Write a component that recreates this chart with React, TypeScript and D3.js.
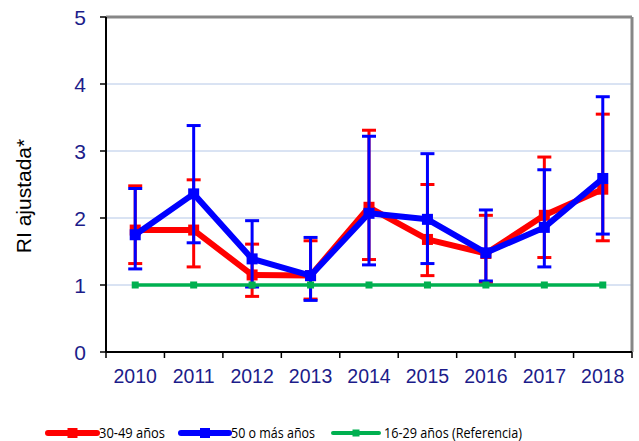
import React from "react";
import * as d3 from "d3";

const years = ["2010", "2011", "2012", "2013", "2014", "2015", "2016", "2017", "2018"];
const yTicks = [0, 1, 2, 3, 4, 5];

const red = [1.82, 1.82, 1.15, 1.14, 2.16, 1.68, 1.47, 2.04, 2.43];
const redLow = [1.32, 1.27, 0.83, 0.79, 1.38, 1.14, 1.04, 1.41, 1.66];
const redHigh = [2.48, 2.57, 1.61, 1.66, 3.31, 2.5, 2.04, 2.91, 3.55];

const blue = [1.75, 2.36, 1.39, 1.14, 2.07, 1.98, 1.48, 1.86, 2.59];
const blueLow = [1.24, 1.63, 0.97, 0.77, 1.3, 1.32, 1.06, 1.27, 1.76];
const blueHigh = [2.44, 3.38, 1.96, 1.71, 3.22, 2.96, 2.12, 2.72, 3.81];

const green = [1, 1, 1, 1, 1, 1, 1, 1, 1];

const seriesNames = ["30-49 años", "50 o más años", "16-29 años (Referencia)"];

const W = 639;
const H = 441;
const left = 106;
const right = 632;
const top = 17;
const bottom = 352;
const navy = "#1c1c8a";

export default function App() {
  const x = d3.scaleBand<string>().domain(years).range([left, right]).padding(0);
  const y = d3.scaleLinear().domain([0, 5]).range([bottom, top]);
  const cx = (i: number) => (x(years[i]) as number) + x.bandwidth() / 2;
  const line = d3
    .line<number>()
    .x((_, i) => cx(i))
    .y((d) => y(d));

  const errorBars = (lo: number[], hi: number[], color: string) =>
    lo.map((l, i) => (
      <g key={i} stroke={color} strokeWidth={3}>
        <line x1={cx(i)} x2={cx(i)} y1={y(l)} y2={y(hi[i])} />
        <line x1={cx(i) - 7} x2={cx(i) + 7} y1={y(l)} y2={y(l)} />
        <line x1={cx(i) - 7} x2={cx(i) + 7} y1={y(hi[i])} y2={y(hi[i])} />
      </g>
    ));

  const markers = (vals: number[], color: string, size: number) =>
    vals.map((v, i) => (
      <rect key={i} x={cx(i) - size / 2} y={y(v) - size / 2} width={size} height={size} fill={color} />
    ));

  const boundaries = years.map((yr) => x(yr) as number).concat([right]);

  const legendItems = [
    { name: seriesNames[0], color: "#ff0000", x1: 48, x2: 97, w: 6, m: 10, tx: 99, len: 66 },
    { name: seriesNames[1], color: "#0000ff", x1: 181, x2: 229, w: 6, m: 10, tx: 231, len: 84 },
    { name: seriesNames[2], color: "#00b050", x1: 333, x2: 379, w: 4, m: 7, tx: 384, len: 138 },
  ];

  return (
    <svg width={W} height={H} style={{ position: "absolute", left: 0, top: 0 }} fontFamily="Liberation Sans, Arial, sans-serif">
      <rect x={0} y={0} width={W} height={H} fill="#ffffff" />
      {/* gridlines */}
      {yTicks
        .filter((t) => t > 0 && t < 5)
        .map((t) => (
          <line key={t} x1={left} x2={right} y1={y(t)} y2={y(t)} stroke="#b4c7e7" strokeWidth={1} />
        ))}
      {/* frame */}
      <line x1={left} x2={right} y1={top} y2={top} stroke="#878787" strokeWidth={3} />
      <line x1={right} x2={right} y1={top} y2={bottom} stroke="#878787" strokeWidth={3} />
      {/* y axis */}
      <line x1={left} x2={left} y1={top} y2={bottom} stroke="#000" strokeWidth={2} />
      {yTicks.map((t) => (
        <g key={t}>
          <line x1={left - 6} x2={left} y1={y(t)} y2={y(t)} stroke="#000" strokeWidth={1.5} />
          <text x={86} y={y(t)} dy="0.36em" textAnchor="end" fontSize={21} fill={navy}>
            {t}
          </text>
        </g>
      ))}
      {/* x axis */}
      <line x1={left} x2={right} y1={bottom} y2={bottom} stroke="#000" strokeWidth={2} />
      {boundaries.map((b, i) => (
        <line key={i} x1={b} x2={b} y1={bottom} y2={bottom + 6} stroke="#000" strokeWidth={1.5} />
      ))}
      {years.map((yr, i) => (
        <text key={yr} x={cx(i)} y={383} textAnchor="middle" fontSize={19.5} fill={navy}>
          {yr}
        </text>
      ))}
      {/* axis title */}
      <text transform={`translate(31,196) rotate(-90)`} textAnchor="middle" fontSize={21} fill="#000">
        RI ajustada*
      </text>
      {/* red series */}
      {errorBars(redLow, redHigh, "#ff0000")}
      <path d={line(red) || ""} fill="none" stroke="#ff0000" strokeWidth={6} strokeLinejoin="round" />
      {markers(red, "#ff0000", 11)}
      {/* blue series */}
      {errorBars(blueLow, blueHigh, "#0000ff")}
      <path d={line(blue) || ""} fill="none" stroke="#0000ff" strokeWidth={6} strokeLinejoin="round" />
      {markers(blue, "#0000ff", 11)}
      {/* green series */}
      <path d={line(green) || ""} fill="none" stroke="#00b050" strokeWidth={3.5} />
      {markers(green, "#00b050", 7)}
      {/* legend */}
      {legendItems.map((it) => (
        <g key={it.name}>
          <line x1={it.x1} x2={it.x2} y1={433} y2={433} stroke={it.color} strokeWidth={it.w} strokeLinecap="round" />
          <rect x={(it.x1 + it.x2) / 2 - it.m / 2} y={433 - it.m / 2} width={it.m} height={it.m} fill={it.color} />
          <text
            x={it.tx}
            y={433}
            dy="0.36em"
            fontSize={15}
            fill="#000"
            fontFamily="Open Sans, sans-serif"
            textLength={it.len}
            lengthAdjust="spacingAndGlyphs"
          >
            {it.name}
          </text>
        </g>
      ))}
    </svg>
  );
}
